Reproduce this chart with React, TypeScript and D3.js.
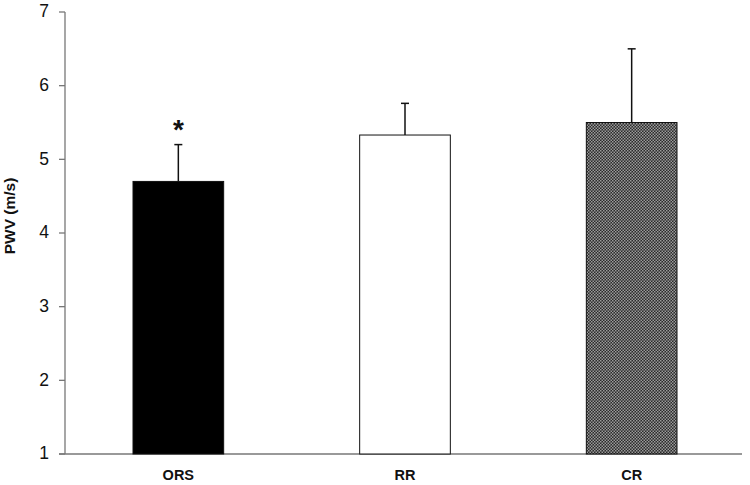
import React from "react";
import * as d3 from "d3";

const categories = ["ORS", "RR", "CR"];
const means = [4.7, 5.33, 5.5];
const errors = [0.5, 0.43, 1.0];
const yTicks = [1, 2, 3, 4, 5, 6, 7];
const significance = ["*", "", ""];

export default function App() {
  const W = 750, H = 485;
  const y = d3.scaleLinear().domain([1, 7]).range([454, 12]);
  const x = d3.scaleBand().domain(categories).range([65, 745]).paddingInner(0.6).paddingOuter(0.3);
  const fills = ["#000", "#fff", "url(#checker)"];
  const font = "Liberation Sans, Arial, sans-serif";
  return (
    <svg width={W} height={H} style={{ position: "absolute", left: 0, top: 0 }}>
      <defs>
        <pattern id="checker" width="3" height="3" patternUnits="userSpaceOnUse">
          <rect width="3" height="3" fill="#2a2a2a" />
          <rect x="0" y="0" width="1.5" height="1.5" fill="#9a9a9a" />
          <rect x="1.5" y="1.5" width="1.5" height="1.5" fill="#9a9a9a" />
        </pattern>
      </defs>
      <rect width={W} height={H} fill="#fff" />
      <line x1={65} x2={65} y1={y(7)} y2={y(1)} stroke="#777" strokeWidth={1.3} />
      <line x1={59} x2={742} y1={y(1)} y2={y(1)} stroke="#777" strokeWidth={1.3} />
      {yTicks.map((t) => (
        <g key={t}>
          <line x1={59} x2={65} y1={y(t)} y2={y(t)} stroke="#777" strokeWidth={1.3} />
          <text x={49} y={y(t)} dy="0.3em" textAnchor="end" fontFamily={font} fontSize={17.5} fill="#111">{t}</text>
        </g>
      ))}
      <text transform={`translate(15,216) rotate(-90)`} textAnchor="middle" fontFamily={font} fontWeight="bold" fontSize={15.5} fill="#111">PWV (m/s)</text>
      {categories.map((c, i) => {
        const bx = x(c)!;
        const bw = x.bandwidth();
        const cx = bx + bw / 2;
        const top = y(means[i] + errors[i]);
        return (
          <g key={c}>
            <line x1={cx} x2={cx} y1={y(means[i])} y2={top} stroke="#111" strokeWidth={1.5} />
            <line x1={cx - 4} x2={cx + 4} y1={top} y2={top} stroke="#111" strokeWidth={1.5} />
            <rect x={bx} y={y(means[i])} width={bw} height={y(1) - y(means[i])} fill={fills[i]} stroke="#111" strokeWidth={1} />
            <text x={cx} y={480} textAnchor="middle" fontFamily={font} fontWeight="bold" fontSize={14.5} fill="#111">{c}</text>
            {significance[i] && (
              <text x={cx} y={top - 6} textAnchor="middle" fontFamily={font} fontWeight="bold" fontSize={28} fill="#111">{significance[i]}</text>
            )}
          </g>
        );
      })}
    </svg>
  );
}
